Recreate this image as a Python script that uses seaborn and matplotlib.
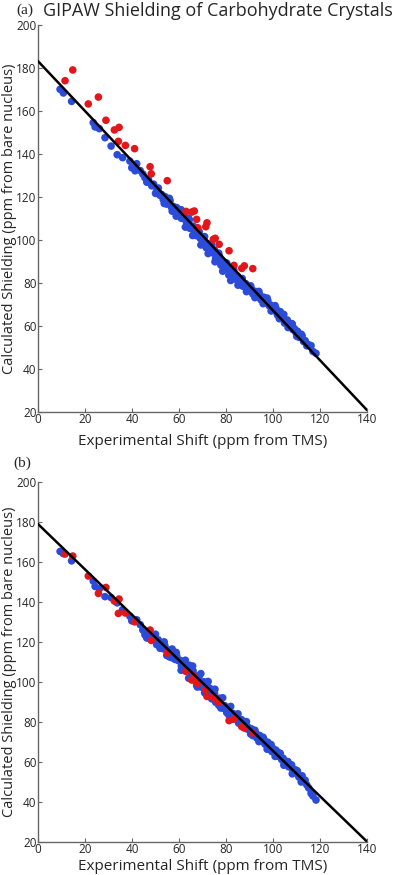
import numpy as np
import pandas as pd
import seaborn as sns
import matplotlib.pyplot as plt

# Experimental shifts of the well-predicted carbons (same in both panels)
blue_x = [9.4, 10.8, 14.3, 23.5, 24.3, 26.1, 28.5, 31.1, 33.7, 36.0, 39.1, 39.9, 41.3, 42.0, 43.5,
          45.5, 46.3, 47.0, 48.4, 49.2, 50.5, 51.2, 51.9, 52.6, 53.3, 54.0, 54.8, 55.5, 56.2, 56.8,
          57.6, 58.3, 59.0, 59.7, 60.4, 61.0, 61.8, 62.4, 63.1, 63.8, 64.4, 64.7, 65.4, 66.0, 66.6,
          67.1, 67.5, 68.0, 68.6, 69.1, 69.6, 70.1, 70.6, 71.1, 71.6, 72.1, 72.6, 73.1, 73.6, 74.1,
          74.6, 75.1, 75.6, 76.1, 76.7, 77.2, 77.8, 78.3, 78.9, 79.4, 80.0, 80.6, 81.2, 81.8, 82.4,
          83.0, 83.6, 84.2, 84.8, 85.4, 86.0, 86.6, 87.2, 87.8, 88.4, 89.0, 89.6, 90.2, 90.8, 91.4,
          92.0, 92.6, 93.1, 93.7, 94.3, 94.9, 95.5, 96.1, 96.6, 97.2, 97.8, 98.4, 98.9, 99.5, 100.1,
          100.7, 101.3, 101.9, 102.5, 103.1, 103.7, 104.3, 104.9, 105.5, 106.1, 106.7, 107.3, 107.9, 108.5, 109.1,
          109.8, 110.4, 111.0, 111.7, 112.4, 113.0, 113.7, 114.4, 115.2, 116.2, 117.0, 118.3,
          58.8, 60.9, 62.7, 64.1, 65.8, 67.8, 69.3, 70.9, 72.4, 73.9, 75.3, 76.9, 78.6, 80.3, 82.0,
          83.3, 85.1, 86.9, 88.7, 90.5, 92.3, 94.0, 95.8, 97.5, 99.2, 100.9, 102.7, 104.6, 106.4, 108.2,
          110.1, 112.0, 53.7, 55.9, 57.1, 44.6, 50.0]

# (a) raw GIPAW shielding
blue_ya = [170.1, 168.4, 164.5, 154.6, 152.6, 151.8, 147.6, 143.7, 139.7, 138.3, 136.7, 133.6, 132.2, 135.5, 132.3,
           129.0, 126.9, 128.1, 125.2, 126.0, 122.9, 124.2, 120.8, 121.2, 118.8, 120.2, 116.7, 117.7, 118.3, 115.2,
           115.6, 113.8, 115.1, 112.8, 113.0, 110.1, 110.6, 111.5, 108.5, 108.9, 109.4, 105.4, 106.0, 106.5, 103.8,
           104.8, 102.0, 102.8, 103.9, 100.7, 101.5, 98.6, 101.0, 98.6, 96.4, 98.4, 96.5, 97.9, 94.5, 95.5,
           93.9, 95.4, 91.4, 93.0, 91.1, 92.5, 88.4, 89.9, 86.8, 89.6, 86.7, 87.4, 83.7, 85.4, 81.7,
           84.8, 81.9, 82.4, 83.3, 80.2, 80.5, 81.0, 78.5, 79.2, 79.7, 77.3, 78.0, 76.7, 77.4, 74.9,
           75.6, 76.1, 73.7, 74.4, 74.7, 72.2, 72.9, 73.4, 70.8, 71.6, 71.9, 69.4, 69.8, 67.3, 69.0,
           67.1, 68.2, 65.1, 65.8, 66.7, 63.8, 64.3, 61.4, 62.1, 62.8, 59.9, 60.4, 61.1, 58.3, 58.8,
           56.9, 57.6, 54.8, 55.1, 55.5, 52.8, 53.2, 50.8, 51.3, 50.9, 48.2, 47.3,
           111.1, 114.1, 106.0, 110.1, 102.1, 105.4, 97.7, 101.6, 93.7, 97.8, 89.9, 93.9, 85.5, 89.3, 81.2,
           86.1, 79.0, 82.1, 76.0, 78.7, 73.2, 76.1, 70.4, 73.0, 67.0, 69.5, 63.4, 65.4, 59.3, 61.0,
           55.2, 56.2, 117.0, 119.4, 113.4, 130.7, 121.7]

# (b) corrected shielding
blue_yb = [165.3, 164.2, 160.6, 150.5, 147.8, 146.6, 142.7, 142.2, 139.6, 136.2, 132.9, 130.6, 130.6, 131.1, 128.7,
           123.6, 122.0, 124.5, 121.6, 122.4, 118.7, 121.1, 116.9, 118.4, 116.6, 118.2, 113.3, 115.3, 116.1, 112.2,
           113.5, 111.3, 113.3, 110.7, 110.9, 108.0, 106.3, 109.8, 106.6, 107.3, 108.4, 102.0, 104.4, 105.6, 100.9,
           103.1, 98.3, 100.7, 103.0, 97.6, 100.1, 97.3, 100.1, 97.4, 94.2, 97.6, 94.9, 96.9, 92.7, 94.4,
           93.2, 94.4, 89.9, 91.3, 91.4, 91.9, 87.0, 88.4, 86.9, 88.2, 86.1, 86.6, 83.5, 84.8, 81.6,
           84.3, 81.8, 81.9, 83.0, 79.4, 80.3, 81.2, 78.1, 78.8, 79.6, 76.5, 77.2, 75.7, 76.6, 73.2,
           74.3, 74.6, 72.0, 72.9, 73.3, 70.4, 71.1, 71.4, 68.9, 69.6, 69.9, 67.4, 67.9, 65.2, 66.7,
           65.0, 65.9, 62.9, 63.6, 64.3, 61.2, 61.9, 59.2, 59.8, 60.3, 57.6, 57.9, 58.6, 55.8, 56.3,
           54.7, 55.4, 52.5, 52.7, 53.1, 50.5, 50.9, 48.5, 47.0, 44.3, 43.0, 41.0,
           114.8, 105.9, 110.9, 101.9, 108.0, 97.5, 104.2, 94.6, 100.3, 91.6, 96.4, 88.4, 92.1, 84.7, 87.8,
           81.5, 84.1, 77.9, 80.2, 74.0, 75.9, 70.2, 72.4, 66.4, 68.7, 62.8, 64.5, 58.4, 60.1, 54.1,
           55.8, 50.0, 120.1, 112.6, 116.5, 126.0, 123.9]

# Outlier carbons (red)
red_x = [11.5, 14.8, 21.4, 25.7, 28.9, 32.5, 34.5, 34.2, 37.2, 41.1, 47.7, 48.2, 55.0, 63.0,
         65.4, 66.5, 67.5, 68.0, 71.4, 71.9, 74.6, 75.4, 77.1, 81.3, 83.4, 86.7, 87.8, 91.4]
red_ya = [174.1, 179.1, 163.3, 166.5, 155.7, 151.2, 152.4, 145.9, 144.0, 142.5, 134.1, 130.8, 127.6, 113.3,
          113.0, 113.5, 109.6, 105.7, 106.2, 108.0, 100.3, 100.8, 98.0, 95.0, 88.2, 86.8, 88.0, 86.7]
red_yb = [164.0, 163.0, 153.0, 144.3, 147.3, 140.5, 141.5, 134.3, 134.5, 130.1, 126.0, 120.8, 114.5, 105.3,
          101.0, 103.0, 100.2, 99.3, 96.2, 92.8, 92.3, 91.5, 89.9, 80.7, 81.5, 77.7, 77.0, 74.5]

# Fitted lines
line_x = [0, 140]
line_ya = [183.2, 20.9]
line_yb = [179.0, 20.2]

BLUE = '#2b4bd9'
RED = '#e3161b'

sns.set_style("ticks")
plt.rcParams['font.family'] = ['Open Sans', 'DejaVu Sans']

fig = plt.figure(figsize=(4, 8.75), dpi=100)
ax_a = fig.add_axes([0.095, 0.5291, 0.8225, 0.4423])
ax_b = fig.add_axes([0.095, 0.0377, 0.8225, 0.4114])


def draw_panel(ax, by, rx, ry, ly, xlab_y):
    blue_df = pd.DataFrame({'x': blue_x, 'y': by})
    red_df = pd.DataFrame({'x': rx, 'y': ry})
    sns.scatterplot(data=blue_df, x='x', y='y', ax=ax, color=BLUE, s=30,
                    linewidth=0, edgecolor='none', zorder=2)
    sns.scatterplot(data=red_df, x='x', y='y', ax=ax, color=RED, s=30,
                    linewidth=0, edgecolor='none', zorder=3)
    sns.lineplot(x=line_x, y=ly, ax=ax, color='black', linewidth=1.8, zorder=4)
    ax.set_xlim(0, 140)
    ax.set_ylim(20, 200)
    ax.set_xticks(range(0, 141, 20))
    ax.set_yticks(range(20, 201, 20))
    sns.despine(ax=ax)
    for sp in ['left', 'bottom']:
        ax.spines[sp].set_color('#666666')
        ax.spines[sp].set_linewidth(1.0)
    ax.tick_params(direction='in', length=3, width=0.8, color='#666666',
                   labelsize=8.5, pad=1)
    ax.set_xlabel('Experimental Shift (ppm from TMS)', fontsize=11, va='center')
    ax.set_ylabel('Calculated Shielding (ppm from bare nucleus)', fontsize=10.5, va='center')
    ax.xaxis.set_label_coords(0.5, xlab_y)
    ax.yaxis.set_label_coords(-0.087, 0.5)


draw_panel(ax_a, blue_ya, red_x, red_ya, line_ya, -0.075)
draw_panel(ax_b, blue_yb, red_x, red_yb, line_yb, -0.069)

fig.text(0.04, 0.988, '(a)', family='Liberation Serif', fontsize=11, va='center')
fig.text(0.107, 0.988, 'GIPAW Shielding of Carbohydrate Crystals', fontsize=13, va='center')
fig.text(0.033, 0.470, '(b)', family='Liberation Serif', fontsize=11, va='center')

fig.savefig('out.png', dpi=100)
